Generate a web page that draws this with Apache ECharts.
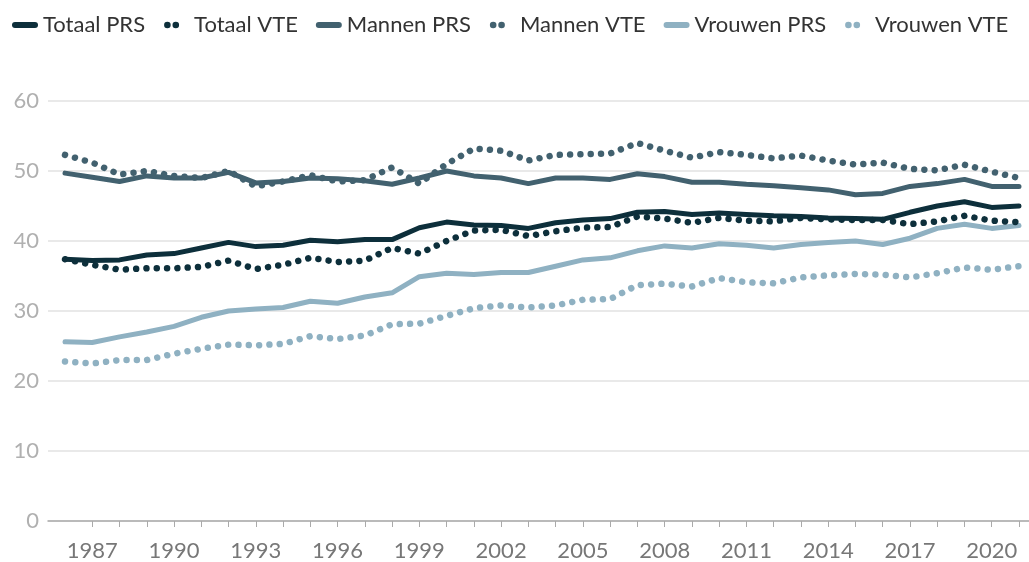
<!DOCTYPE html>
<html>
<head>
<meta charset="utf-8">
<script src="https://cdn.jsdelivr.net/npm/echarts@6/dist/echarts.min.js"></script>
<style>
html,body{margin:0;padding:0;background:#fff;}
#chart{width:1029px;height:562px;}
</style>
</head>
<body>
<div id="chart"></div>
<script>
var years = [];
for (var y = 1986; y <= 2021; y++) years.push(y);
var tickYears = years.slice(1);
var labelYears = [1987, 1990, 1993, 1996, 1999, 2002, 2005, 2008, 2011, 2014, 2017, 2020];
var yTicks = [0, 10, 20, 30, 40, 50, 60];

var seriesNames = ['Totaal PRS', 'Totaal VTE', 'Mannen PRS', 'Mannen VTE', 'Vrouwen PRS', 'Vrouwen VTE'];

var totaalPRS = [37.4, 37.2, 37.3, 38.0, 38.2, 39.0, 39.8, 39.2, 39.4, 40.1, 39.9, 40.2, 40.2, 41.9, 42.7, 42.3, 42.2, 41.8, 42.6, 43.0, 43.2, 44.1, 44.2, 43.8, 44.0, 43.8, 43.6, 43.5, 43.3, 43.2, 43.1, 44.1, 45.0, 45.6, 44.8, 45.0];
var totaalVTE = [37.4, 36.6, 35.9, 36.1, 36.1, 36.3, 37.2, 36.0, 36.6, 37.6, 37.0, 37.2, 39.0, 38.2, 40.0, 41.5, 41.6, 40.7, 41.4, 41.9, 42.0, 43.5, 43.2, 42.6, 43.3, 42.9, 42.8, 43.3, 43.1, 43.0, 43.0, 42.4, 42.8, 43.6, 42.9, 42.7];
var mannenPRS = [49.7, 49.1, 48.5, 49.3, 49.0, 49.0, 49.8, 48.3, 48.5, 49.0, 48.9, 48.6, 48.1, 49.0, 50.0, 49.3, 49.0, 48.2, 49.0, 49.0, 48.8, 49.6, 49.2, 48.4, 48.4, 48.1, 47.9, 47.6, 47.3, 46.6, 46.8, 47.8, 48.2, 48.8, 47.8, 47.8];
var mannenVTE = [52.3, 51.2, 49.5, 50.0, 49.3, 49.0, 50.0, 47.8, 48.5, 49.4, 48.5, 48.7, 50.5, 48.2, 51.0, 53.2, 52.9, 51.5, 52.3, 52.4, 52.5, 54.0, 52.9, 51.9, 52.7, 52.3, 51.8, 52.2, 51.5, 50.9, 51.2, 50.3, 50.1, 50.9, 49.9, 49.0];
var vrouwenPRS = [25.6, 25.5, 26.3, 27.0, 27.8, 29.1, 30.0, 30.3, 30.5, 31.4, 31.1, 32.0, 32.6, 34.9, 35.4, 35.2, 35.5, 35.5, 36.4, 37.3, 37.6, 38.6, 39.3, 39.0, 39.6, 39.4, 39.0, 39.5, 39.8, 40.0, 39.5, 40.4, 41.8, 42.4, 41.8, 42.2];
var vrouwenVTE = [22.8, 22.5, 23.0, 23.0, 23.9, 24.6, 25.2, 25.1, 25.3, 26.4, 26.0, 26.5, 28.1, 28.2, 29.3, 30.4, 30.8, 30.5, 30.8, 31.6, 31.7, 33.7, 33.9, 33.5, 34.7, 34.1, 33.95, 34.8, 35.1, 35.3, 35.2, 34.8, 35.4, 36.2, 35.9, 36.4];

var seriesValues = [totaalPRS, totaalVTE, mannenPRS, mannenVTE, vrouwenPRS, vrouwenVTE];
var colors = ['#0d2f3b', '#0d2f3b', '#42616f', '#42616f', '#8fb1c2', '#8fb1c2'];
var dotted = [false, true, false, true, false, true];

var ICON_LINE = 'path://M0 0 L0 0 M26 8 L26 8 M3 1 L23 1 A3 3 0 0 1 23 7 L3 7 A3 3 0 0 1 3 1 Z';
var ICON_DOTS = 'path://M-3 0 L-3 0 M23 8 L23 8 M-2 4 A3.3 3.3 0 1 0 4.6 4 A3.3 3.3 0 1 0 -2 4 Z M6.4 4 A3.3 3.3 0 1 0 13 4 A3.3 3.3 0 1 0 6.4 4 Z';

function pairs(vals) {
  return years.map(function (yr, i) { return [yr, vals[i]]; });
}

var series = seriesNames.map(function (name, i) {
  return {
    name: name,
    type: 'line',
    data: pairs(seriesValues[i]),
    symbol: 'none',
    showSymbol: false,
    color: colors[i],
    lineStyle: dotted[i]
      ? { width: 6.5, color: colors[i], type: [0.01, 10.3], cap: 'round', join: 'round' }
      : { width: 5, color: colors[i], cap: 'round', join: 'round' },
    emphasis: { disabled: true },
    silent: true,
    z: dotted[i] ? 3 : 2
  };
});

var chart = echarts.init(document.getElementById('chart'), null, { renderer: 'canvas' });
chart.setOption({
  animation: false,
  backgroundColor: '#ffffff',
  textStyle: { fontFamily: 'Lato' },
  legend: {
    left: 12,
    top: 14,
    padding: 0,
    itemWidth: 26,
    itemHeight: 8,
    itemGap: 18,
    itemStyle: { borderWidth: 0 },
    textStyle: { fontFamily: 'Lato', fontSize: 22, color: '#333333' },
    data: seriesNames.map(function (name, i) {
      return {
        name: name,
        icon: dotted[i] ? ICON_DOTS : ICON_LINE,
        itemStyle: { color: colors[i], borderWidth: 0 }
      };
    })
  },
  grid: { left: 48, right: 0, top: 101, bottom: 41, containLabel: false },
  xAxis: {
    type: 'value',
    min: 1985.376,
    max: 2021.367,
    axisLine: { show: true, lineStyle: { color: '#aaaaaa', width: 1.5 } },
    axisTick: { show: true, customValues: tickYears, length: 6, lineStyle: { color: '#aaaaaa', width: 1 } },
    axisLabel: {
      customValues: labelYears,
      formatter: function (v) { return String(v); },
      fontFamily: 'Lato', fontSize: 22, color: '#777777', margin: 19
    },
    splitLine: { show: false }
  },
  yAxis: {
    type: 'value',
    min: yTicks[0],
    max: yTicks[yTicks.length - 1],
    interval: 10,
    axisLine: { show: false },
    axisTick: { show: false },
    axisLabel: { fontFamily: 'Lato', fontSize: 22, color: '#b0b0b0', margin: 9 },
    splitLine: { show: true, lineStyle: { color: '#e2e2e2', width: 1.5 } }
  },
  series: series
});
</script>
</body>
</html>
